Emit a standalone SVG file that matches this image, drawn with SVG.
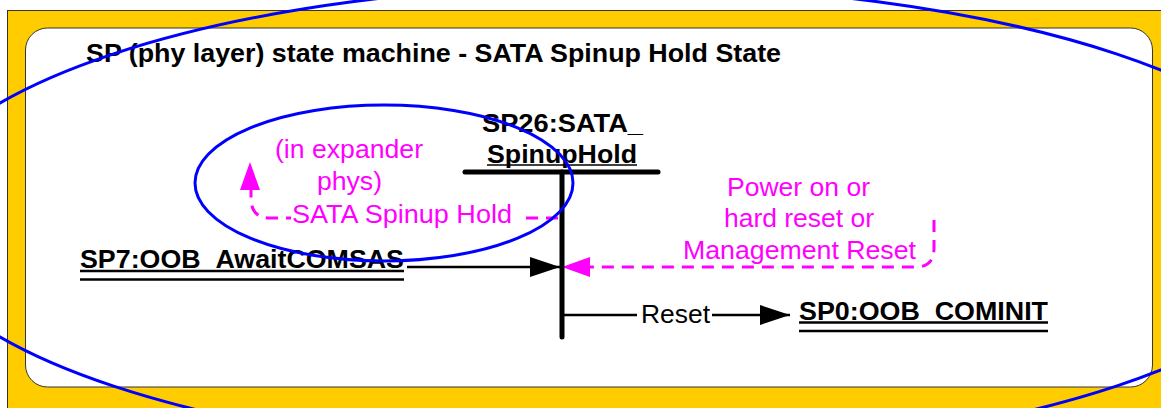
<svg xmlns="http://www.w3.org/2000/svg" width="1161" height="408" viewBox="0 0 1161 408">
  <style>
    .state { font-family: "Liberation Sans", Arial, sans-serif; font-weight: bold; font-size: 25px; fill: #000; }
    .note { font-family: "Liberation Sans", Arial, sans-serif; font-size: 25px; fill: #FF00FF; }
    .label { font-family: "Liberation Sans", Arial, sans-serif; font-size: 25px; fill: #000; }
    .uline { stroke: #000; stroke-width: 2.5; }
    .bar { stroke: #000; stroke-width: 5; stroke-linecap: round; fill: none; }
    .conn { stroke: #000; stroke-width: 2.5; fill: none; }
    .dash { stroke: #FF00FF; stroke-width: 3; fill: none; stroke-dasharray: 12 8; }
    .ring { stroke: #0000FF; stroke-width: 3; fill: none; }
  </style>
  <defs>
    <marker id="arrowBlack" viewBox="0 0 30 20" refX="30" refY="10" markerWidth="30" markerHeight="20" markerUnits="userSpaceOnUse" orient="auto">
      <path d="M0,0 L30,10 L0,20 Z" fill="#000"/>
    </marker>
    <marker id="arrowMagenta" viewBox="0 0 28 20" refX="28" refY="10" markerWidth="28" markerHeight="20" markerUnits="userSpaceOnUse" orient="auto">
      <path d="M0,0 L28,10 L0,20 Z" fill="#FF00FF"/>
    </marker>
  </defs>

  <!-- frame -->
  <rect x="7.5" y="10.5" width="1170" height="420" fill="#FFCC00" stroke="#333" stroke-width="1"/>
  <rect x="25.5" y="28" width="1127" height="359" rx="22" ry="22" fill="#FFFFFF" stroke="#333" stroke-width="1"/>

  <text class="state" x="86" y="62" textLength="695" lengthAdjust="spacingAndGlyphs">SP (phy layer) state machine - SATA Spinup Hold State</text>

  <!-- connectors -->
  <g id="connectors">
    <!-- SP7 -> SP26 -->
    <line class="conn" x1="407" y1="267" x2="560" y2="267" marker-end="url(#arrowBlack)"/>
    <!-- SP26 -> SP0 on Reset -->
    <line class="conn" x1="562" y1="315" x2="637" y2="315"/>
    <line class="conn" x1="712" y1="315" x2="790" y2="315" marker-end="url(#arrowBlack)"/>
    <text class="label" x="641" y="323" textLength="69" lengthAdjust="spacingAndGlyphs">Reset</text>
    <!-- power on / hard reset / management reset entry -->
    <path class="dash" d="M934,220 V248 Q934,267 916,267 H590"/>
    <path d="M590,257 L562,267 L590,277 Z" fill="#FF00FF"/>
    <!-- expander phys exit -->
    <path class="dash" d="M558,218 H270 Q251,218 251,198 V190"/>
    <path d="M240,190 L250,162 L260,190 Z" fill="#FF00FF"/>
    <rect x="291" y="202" width="227" height="27" fill="#FFFFFF"/>
    <text class="note" x="292" y="223" textLength="220" lengthAdjust="spacingAndGlyphs">SATA Spinup Hold</text>
    <text class="note" x="275" y="158" textLength="148" lengthAdjust="spacingAndGlyphs">(in expander</text>
    <text class="note" x="317" y="190" textLength="65" lengthAdjust="spacingAndGlyphs">phys)</text>
    <text class="note" x="727" y="196" textLength="143" lengthAdjust="spacingAndGlyphs">Power on or</text>
    <text class="note" x="724" y="227" textLength="150" lengthAdjust="spacingAndGlyphs">hard reset or</text>
    <text class="note" x="683" y="259" textLength="233" lengthAdjust="spacingAndGlyphs">Management Reset</text>
  </g>

  <!-- SP26 state -->
  <g id="sp26">
    <text class="state" x="482" y="132" textLength="161" lengthAdjust="spacingAndGlyphs">SP26:SATA_</text>
    <text class="state" x="487" y="163" textLength="150" lengthAdjust="spacingAndGlyphs">SpinupHold</text>
    <line x1="487" y1="165" x2="637" y2="165" stroke="#000" stroke-width="1.5"/>
    <line class="bar" x1="465" y1="172" x2="658" y2="172"/>
    <line class="bar" x1="562" y1="172" x2="562" y2="337"/>
  </g>

  <!-- SP7 state -->
  <g id="sp7">
    <text class="state" x="80" y="268" textLength="324" lengthAdjust="spacingAndGlyphs">SP7:OOB_AwaitCOMSAS</text>
    <line class="uline" x1="80" y1="271" x2="404" y2="271"/>
    <line class="uline" x1="80" y1="279.5" x2="404" y2="279.5"/>
  </g>

  <!-- SP0 state -->
  <g id="sp0">
    <text class="state" x="799" y="320" textLength="249" lengthAdjust="spacingAndGlyphs">SP0:OOB_COMINIT</text>
    <line class="uline" x1="799" y1="322.5" x2="1048" y2="322.5"/>
    <line class="uline" x1="799" y1="331" x2="1048" y2="331"/>
  </g>

  <!-- highlight rings -->
  <g id="rings">
    <ellipse class="ring" cx="615" cy="220" rx="709" ry="235"/>
    <ellipse class="ring" cx="384" cy="183" rx="189" ry="78" stroke-width="2.5"/>
  </g>
</svg>
